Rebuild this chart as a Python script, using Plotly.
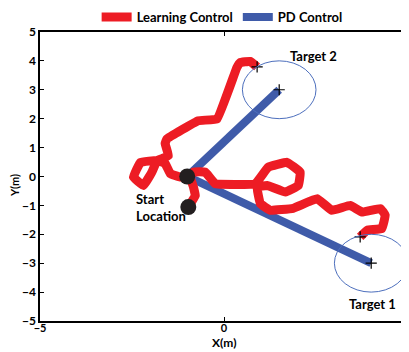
import plotly.graph_objects as go

# Learning control trajectory toward Target 2
lc2_x = [-1.0, -1.19, -1.46, -1.60, -1.81, -2.27, -2.46, -2.19, -1.96, -1.82, -1.68, -1.51, -1.60, -1.55, -0.70, -0.19, 0.35, 0.44, 0.71, 0.90]
lc2_y = [0.0, -0.02, 0.10, 0.45, 0.55, 0.49, -0.02, -0.31, 0.15, 0.55, 0.62, 0.72, 1.14, 1.30, 1.93, 1.99, 3.77, 3.94, 3.98, 3.79]

# Learning control trajectory toward Target 1
lc1_x = [-0.97, -0.78, -0.83, -0.92, -0.83, -0.51, -0.24, 0.85, 1.20, 1.71, 2.07, 2.02, 1.67, 1.17, 0.90, 0.99, 1.26, 1.88, 2.53, 2.93, 3.43, 3.75, 4.25, 4.38, 4.29, 3.89, 3.70]
lc1_y = [-1.06, -0.66, -0.37, 0.0, 0.15, 0.15, -0.25, -0.25, 0.32, 0.49, 0.15, -0.31, -0.54, -0.31, -0.37, -0.94, -1.17, -1.10, -0.77, -1.17, -1.00, -1.23, -1.11, -1.34, -1.80, -1.86, -2.09]

# PD control trajectories
pd2_x = [-1.0, 1.5]
pd2_y = [0.0, 3.0]
pd1_x = [-1.0, 4.0]
pd1_y = [0.0, -3.0]

# Targets
target_x = [4.0, 1.5]
target_y = [-3.0, 3.0]
target_r = [1.0, 1.0]
target_labels = ["Target 1", "Target 2"]

# Start locations
start_x = [-1.0, -0.97]
start_y = [0.0, -1.06]

# End points of learning control
end_x = [lc1_x[-1], lc2_x[-1]]
end_y = [lc1_y[-1], lc2_y[-1]]

RED = "#ed1c24"
BLUE = "#3f5ba9"

fig = go.Figure()
fig.add_trace(go.Scatter(x=pd2_x, y=pd2_y, mode="lines", line=dict(color=BLUE, width=8),
                         name="PD Control", legendrank=2))
fig.add_trace(go.Scatter(x=pd1_x, y=pd1_y, mode="lines", line=dict(color=BLUE, width=8),
                         showlegend=False))
fig.add_trace(go.Scatter(x=lc2_x, y=lc2_y, mode="lines", line=dict(color=RED, width=9, shape="spline", smoothing=0.25),
                         name="Learning Control", legendrank=1))
fig.add_trace(go.Scatter(x=lc1_x, y=lc1_y, mode="lines", line=dict(color=RED, width=9, shape="spline", smoothing=0.25),
                         showlegend=False))
fig.add_trace(go.Scatter(x=start_x, y=start_y, mode="markers",
                         marker=dict(color="#231f20", size=16), showlegend=False))
fig.add_trace(go.Scatter(x=end_x + target_x, y=end_y + target_y, mode="markers",
                         marker=dict(symbol="cross-thin", size=8, line=dict(color="black", width=1.2)),
                         showlegend=False))

for cx, cy, r in zip(target_x, target_y, target_r):
    fig.add_shape(type="circle", xref="x", yref="y", x0=cx - r, x1=cx + r, y0=cy - r, y1=cy + r,
                  line=dict(color="#4d6fbd", width=1))

fig.add_annotation(x=target_x[1] + 0.93, y=target_y[1] + 1.17, text=target_labels[1], showarrow=False,
                   font=dict(size=13))
fig.add_annotation(x=target_x[0] + 0.03, y=target_y[0] - 1.41, text=target_labels[0], showarrow=False,
                   font=dict(size=13))
fig.add_annotation(x=-2.45, y=-1.07, text="Start<br>Location", showarrow=False, align="left",
                   xanchor="left", font=dict(size=13))

# Axis titles placed as paper annotations to match the tight spacing of the original
fig.add_annotation(xref="paper", yref="paper", x=0.5, y=-0.076, yanchor="middle",
                   text="X(m)", showarrow=False, font=dict(size=12))
fig.add_annotation(xref="paper", yref="paper", x=-0.071, y=0.47, xanchor="center", yanchor="middle",
                   text="Y(m)", textangle=-90, showarrow=False, font=dict(size=11))

axis_common = dict(showline=True, linecolor="black", linewidth=1.5, mirror="ticks",
                   ticks="inside", ticklen=4, tickcolor="black", showgrid=False, zeroline=False,
                   tickfont=dict(size=12, color="black"), automargin=False)

# The page body adds an 8px offset, so the figure is sized to fit the window after that offset.
fig.update_layout(
    width=401, height=344,
    margin=dict(l=32, r=1, t=23, b=31),
    paper_bgcolor="white", plot_bgcolor="white",
    font=dict(family="Lato", color="black", weight="bold"),
    legend=dict(orientation="h", xref="container", yref="container",
                x=0.534, xanchor="center", y=0.974, yanchor="middle",
                font=dict(size=13), bgcolor="rgba(0,0,0,0)", traceorder="normal",
                itemwidth=30, tracegroupgap=0),
    xaxis=dict(range=[-5, 5], tickvals=[-5, 0, 5], ticktext=["\u22125", "0", "5"],
               ticklabelstandoff=-4, **axis_common),
    yaxis=dict(range=[-5, 5], tickvals=list(range(-5, 6)),
               ticktext=[("\u2212" + str(-v)) if v < 0 else str(v) for v in range(-5, 6)],
               **axis_common),
)
fig.update_xaxes(tickfont=dict(size=11))

fig.write_html("out.html")
